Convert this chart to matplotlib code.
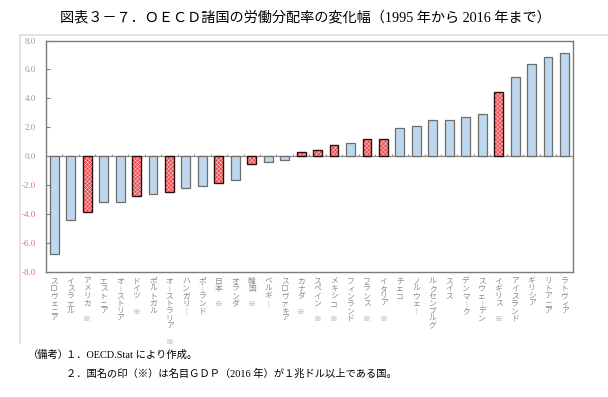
import numpy as np
import matplotlib
matplotlib.use("Agg")
from matplotlib import pyplot as plt

plt.rcParams['font.family'] = ['Noto Sans CJK JP', 'DejaVu Sans']
plt.rcParams['hatch.linewidth'] = 0.35

# data (percentage points, 1995 -> 2016)
countries = ["スロヴェニア", "イスラエル", "アメリカ", "エストニア", "オーストリア",
             "ドイツ", "ポルトガル", "オーストラリア", "ハンガリー", "ポーランド",
             "日本", "オランダ", "韓国", "ベルギー", "スロヴァキア", "カナダ",
             "スペイン", "メキシコ", "フィンランド", "フランス", "イタリア", "チェコ",
             "ノルウェー", "ルクセンブルグ", "スイス", "デンマーク", "スウェーデン",
             "イギリス", "アイスランド", "ギリシア", "リトアニア", "ラトヴィア"]
change = [-6.75, -4.42, -3.87, -3.18, -3.18, -2.72, -2.63, -2.49, -2.21, -2.03,
          -1.87, -1.66, -0.51, -0.37, -0.28, 0.28, 0.41, 0.81, 0.90, 1.22,
          1.22, 1.94, 2.07, 2.49, 2.53, 2.70, 2.90, 4.47, 5.51, 6.36, 6.87, 7.12]
# ※ : nominal GDP (2016) of 1 trillion dollars or more
big_gdp = ["アメリカ", "ドイツ", "オーストラリア", "日本", "韓国", "カナダ",
           "スペイン", "メキシコ", "フランス", "イタリア", "イギリス"]
yticks = [-8, -6, -4, -2, 0, 2, 4, 6, 8]

title = "図表３－７．ＯＥＣＤ諸国の労働分配率の変化幅（1995 年から 2016 年まで）"
note1 = "１．OECD.Stat により作成。"
note2 = "２．国名の印（※）は名目ＧＤＰ（2016 年）が１兆ドル以上である国。"


def tate(name):
    # vertical writing: one character per line
    s = "\n".join("︱" if c == "ー" else c for c in name)
    if name in big_gdp:
        s += "\n\n※"
    return s


fig = plt.figure(figsize=(6.08, 3.97), dpi=100)

# light frame around the chart block
bg = fig.add_axes([20 / 608, 1 - 343 / 397, 1 - 20 / 608, (343 - 35) / 397])
bg.set_xticks([])
bg.set_yticks([])
bg.patch.set_alpha(0)
for side in ["right", "bottom"]:
    bg.spines[side].set_visible(False)
for side in ["top", "left"]:
    bg.spines[side].set_color("#dddddd")
    bg.spines[side].set_linewidth(1.2)

ax = fig.add_axes([46 / 608, 1 - 272 / 397, (572.7 - 46) / 608, (272 - 40.5) / 397])
x = np.arange(len(countries))
vals = np.array(change)
mark = np.array([c in big_gdp for c in countries])

ax.bar(x[~mark], vals[~mark], width=0.54, color="#bdd7ee", edgecolor="#6d6d6d",
       linewidth=0.9, zorder=3)
ax.bar(x[mark], vals[mark], width=0.54, color="#ee4f55", edgecolor="#ffd0d0",
       hatch="xxxxxxxx", linewidth=0, zorder=3)
ax.bar(x[mark], vals[mark], width=0.54, fill=False, edgecolor="#2b1010",
       linewidth=1.0, zorder=4)

ax.axhline(0, color="#8c8c8c", lw=0.9, zorder=2)
ax.vlines(x[:-1] + 0.5, 0, 0.15, color="#8c8c8c", lw=0.8, zorder=2)

ax.set_xlim(-0.5, len(countries) - 0.5)
ax.set_ylim(-8, 8)
ax.set_yticks(yticks)
ax.set_yticklabels([f"{v:.1f}" for v in yticks], family="Liberation Serif",
                   fontsize=6.5)
for lab, v in zip(ax.get_yticklabels(), yticks):
    lab.set_color("#e0707a" if v < 0 else "#9a9a9a")
ax.tick_params(axis="y", direction="in", length=3, pad=7, color="#808080")

ax.set_xticks(x)
ax.set_xticklabels([tate(c) for c in countries], fontsize=5.6, color="#8a8a8a",
                   linespacing=0.92, va="top")
ax.tick_params(axis="x", length=0, pad=4)

for s in ax.spines.values():
    s.set_color("#7a7a7a")
    s.set_linewidth(1.0)

fig.text(0.503, 1 - 18 / 397, title, ha="center", va="center", fontsize=10.2,
         family=["Liberation Serif", "Noto Sans CJK JP"])
fig.text(28 / 608, 1 - 355 / 397, "（備考）", ha="left", va="center", fontsize=7.4,
         family=["Liberation Serif", "Noto Sans CJK JP"])
fig.text(66 / 608, 1 - 355 / 397, note1, ha="left", va="center", fontsize=7.4,
         family=["Liberation Serif", "Noto Sans CJK JP"])
fig.text(66 / 608, 1 - 374 / 397, note2, ha="left", va="center", fontsize=7.4,
         family=["Liberation Serif", "Noto Sans CJK JP"])

fig.savefig("out.png", dpi=100)
